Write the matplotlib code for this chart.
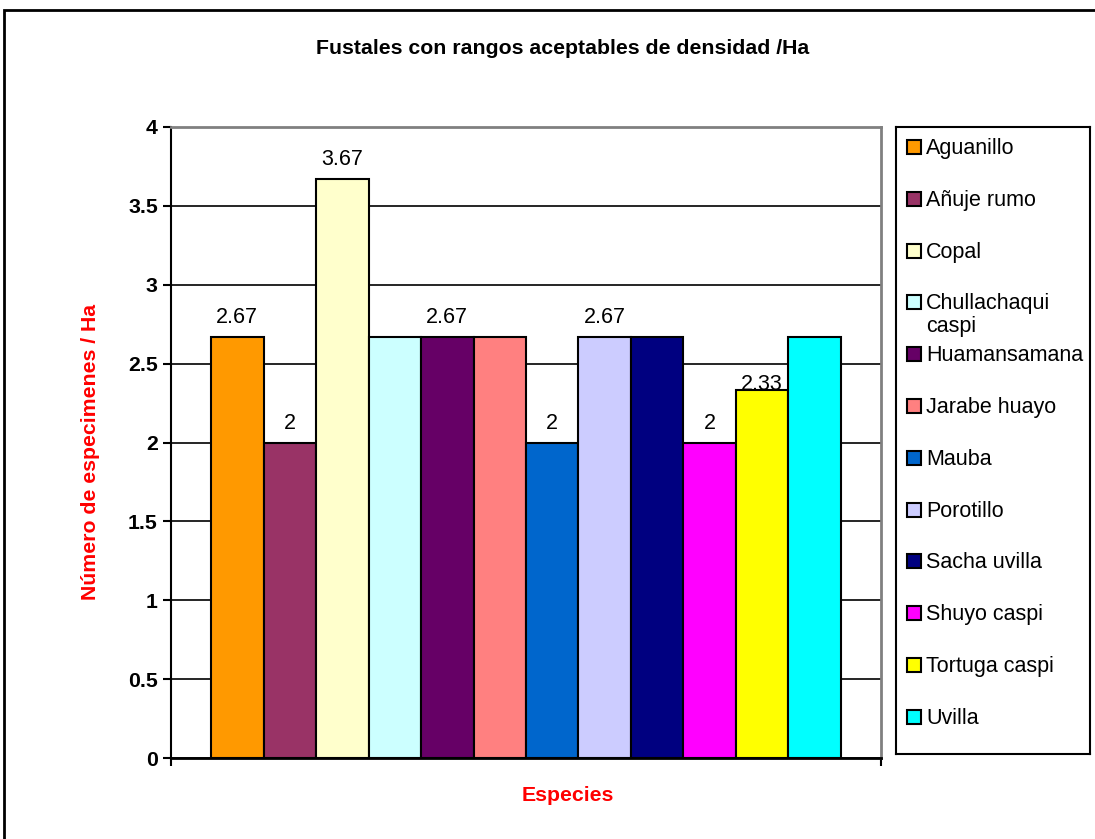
import matplotlib
matplotlib.use("Agg")
import matplotlib.pyplot as plt
from matplotlib.patches import Rectangle

plt.rcParams['font.family'] = ['Liberation Sans', 'DejaVu Sans']

especies = ['Aguanillo', 'Añuje rumo', 'Copal', 'Chullachaqui\ncaspi',
            'Huamansamana', 'Jarabe huayo', 'Mauba', 'Porotillo',
            'Sacha uvilla', 'Shuyo caspi', 'Tortuga caspi', 'Uvilla']
densidad = [2.67, 2, 3.67, 2.67, 2.67, 2.67, 2, 2.67, 2.67, 2, 2.33, 2.67]
colores = ['#FF9900', '#993366', '#FFFFCC', '#CCFFFF', '#660066', '#FF8080',
           '#0066CC', '#CCCCFF', '#000080', '#FF00FF', '#FFFF00', '#00FFFF']
# which bars carry a value label, and how far above the bar it sits (pt)
mostrar_etiqueta = [True, True, True, False, True, False,
                    True, True, False, True, True, False]
desfase_etiqueta = [14, 14, 14, 14, 14, 14, 14, 14, 14, 14, 4, 14]

FS = 15.5      # regular text
FSB = 15.3     # bold text

W, H = 1095, 839
fig = plt.figure(figsize=(W / 100, H / 100), dpi=100)

# outer chart frame
fig.add_artist(Rectangle((4 / W, -0.05), 1.1, 1 - 10 / H + 0.05,
                         transform=fig.transFigure, fill=False,
                         edgecolor='black', lw=2, clip_on=False))

fig.text(563 / W, 1 - 48 / H, 'Fustales con rangos aceptables de densidad /Ha',
         ha='center', va='center', fontsize=FSB, fontweight='bold')

ax = fig.add_axes([171 / W, 81 / H, 710 / W, 631 / H])
x = list(range(len(especies)))
ax.bar(x, densidad, width=1.0, color=colores, edgecolor='black', lw=1.5,
       zorder=3)

for xi, v, show, off in zip(x, densidad, mostrar_etiqueta, desfase_etiqueta):
    if show:
        ax.annotate('{:g}'.format(v), (xi, v), xytext=(0, off),
                    textcoords='offset points', ha='center', va='center',
                    fontsize=FS, zorder=4)

ax.set_ylim(0, 4)
ax.set_yticks([0, 0.5, 1, 1.5, 2, 2.5, 3, 3.5, 4])
ax.set_yticklabels(['0', '0.5', '1', '1.5', '2', '2.5', '3', '3.5', '4'],
                   fontweight='bold', fontsize=FSB)
ax.grid(axis='y', color='black', lw=1.2, zorder=0)

ax.set_xlim(-1.262, 12.262)
ax.set_xticks([-1.262, 12.262])
ax.set_xticklabels(['', ''])
ax.tick_params(axis='both', direction='out', length=6, width=1.5,
               colors='black', pad=3.5)

ax.spines['left'].set_linewidth(1.5)
ax.spines['bottom'].set_linewidth(2)
for s in ['top', 'right']:
    ax.spines[s].set_color('#808080')
    ax.spines[s].set_linewidth(2)

ax.set_ylabel('Número de especimenes / Ha', color='red', fontweight='bold',
              fontsize=FSB)
ax.yaxis.set_label_coords(-0.1, 0.485)
ax.set_xlabel('Especies', color='red', fontweight='bold', fontsize=FSB)
ax.xaxis.set_label_coords(0.559, -0.044)

# legend box, laid out in pixel units
lg = fig.add_axes([896 / W, (H - 754) / H, 194 / W, 627 / H])
lg.set_xlim(0, 194)
lg.set_ylim(627, 0)
lg.set_xticks([])
lg.set_yticks([])
for s in lg.spines.values():
    s.set_linewidth(1.5)
for i, (nombre, c) in enumerate(zip(especies, colores)):
    yc = 20 + 51.8 * i
    lg.add_patch(Rectangle((11, yc - 7), 14, 14, facecolor=c,
                           edgecolor='black', lw=1.5))
    for k, linea in enumerate(nombre.split('\n')):
        lg.text(30, yc + 7 + 23 * k, linea, fontsize=FS, va='baseline',
                ha='left')

fig.savefig('out.png', dpi=100)
